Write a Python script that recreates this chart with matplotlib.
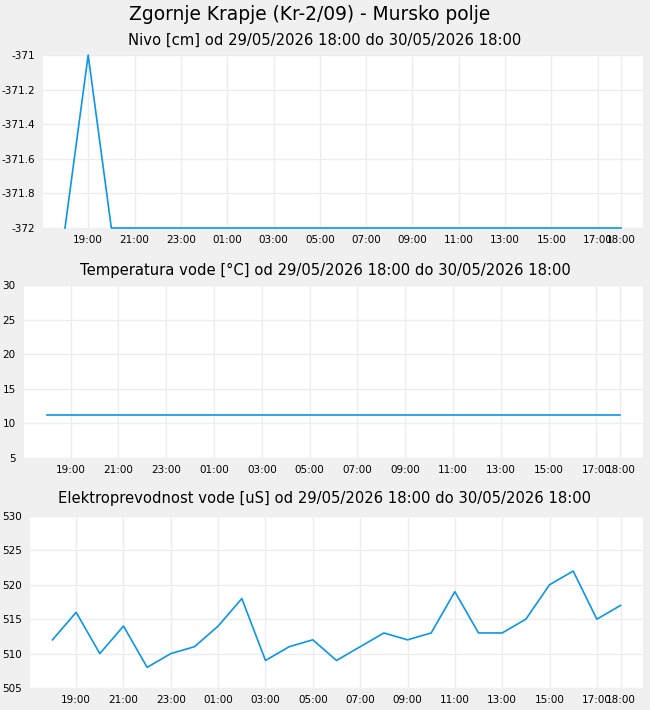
"""Three-panel station chart: level, water temperature and conductivity."""

import matplotlib

matplotlib.use("Agg")
import matplotlib.pyplot as plt  # noqa: E402
import matplotlib.dates as mdates  # noqa: E402
import pandas as pd  # noqa: E402

STATION = "Zgornje Krapje (Kr-2/09) - Mursko polje"
PERIOD = "od 29/05/2026 18:00 do 30/05/2026 18:00"

times = pd.date_range("2026-05-29 18:00", "2026-05-30 18:00", freq="h")

nivo = [-372, -371, -372, -372, -372, -372, -372, -372, -372, -372, -372,
        -372, -372, -372, -372, -372, -372, -372, -372, -372, -372, -372,
        -372, -372, -372]
temperatura = [11.2, 11.2, 11.2, 11.2, 11.2, 11.2, 11.2, 11.2, 11.2, 11.2,
               11.2, 11.2, 11.2, 11.2, 11.2, 11.2, 11.2, 11.2, 11.2, 11.2,
               11.2, 11.2, 11.2, 11.2, 11.2]
prevodnost = [512, 516, 510, 514, 508, 510, 511, 514, 518, 509, 511, 512,
              509, 511, 513, 512, 513, 519, 513, 513, 515, 520, 522, 515, 517]

panels = [
    ("Nivo [cm]", nivo, (-372, -371), [-372, -371.8, -371.6, -371.4, -371.2, -371],
     ["-372", "-371.8", "-371.6", "-371.4", "-371.2", "-371"]),
    ("Temperatura vode [°C]", temperatura, (5, 30), [5, 10, 15, 20, 25, 30],
     ["5", "10", "15", "20", "25", "30"]),
    ("Elektroprevodnost vode [uS]", prevodnost, (505, 530),
     [505, 510, 515, 520, 525, 530], ["505", "510", "515", "520", "525", "530"]),
]

W, H = 650, 710
# pixel boxes: left, top, right, bottom ; title y
boxes = [(43, 55, 643, 228, 40), (24, 285, 643, 458, 270), (30, 516, 643, 688, 499)]

BLUE = "#0b96ea"
GRID = "#ededed"

fig = plt.figure(figsize=(W / 100, H / 100), dpi=100, facecolor="#f0f0f0")
fig.text(310 / W, 1 - 14 / H, STATION, ha="center", va="center", fontsize=13.4)

pad = pd.Timedelta(minutes=57)
xticks = list(pd.date_range("2026-05-29 19:00", "2026-05-30 17:00", freq="2h"))
xticks.append(times[-1])

for (name, vals, ylim, yticks, ylabels), (l, t, r, b, ty) in zip(panels, boxes):
    ax = fig.add_axes([l / W, 1 - b / H, (r - l) / W, (b - t) / H])
    ax.set_facecolor("white")
    ax.plot(times, vals, color=BLUE, linewidth=1.2, clip_on=False, zorder=3)
    ax.set_xlim(times[0] - pad, times[-1] + pad)
    ax.set_ylim(*ylim)
    ax.set_yticks(yticks)
    ax.set_yticklabels(ylabels)
    ax.set_xticks(xticks)
    ax.xaxis.set_major_formatter(mdates.DateFormatter("%H:%M"))
    ax.grid(True, color=GRID, linewidth=1)
    ax.set_axisbelow(True)
    for s in ax.spines.values():
        s.set_visible(False)
    ax.tick_params(length=0, labelsize=7.5, pad=6)
    ax.tick_params(axis="x", pad=5)
    fig.text(0.5, 1 - ty / H, f"{name} {PERIOD}", ha="center", va="center",
             fontsize=10.6)

fig.savefig("out.png", dpi=100, facecolor=fig.get_facecolor())
